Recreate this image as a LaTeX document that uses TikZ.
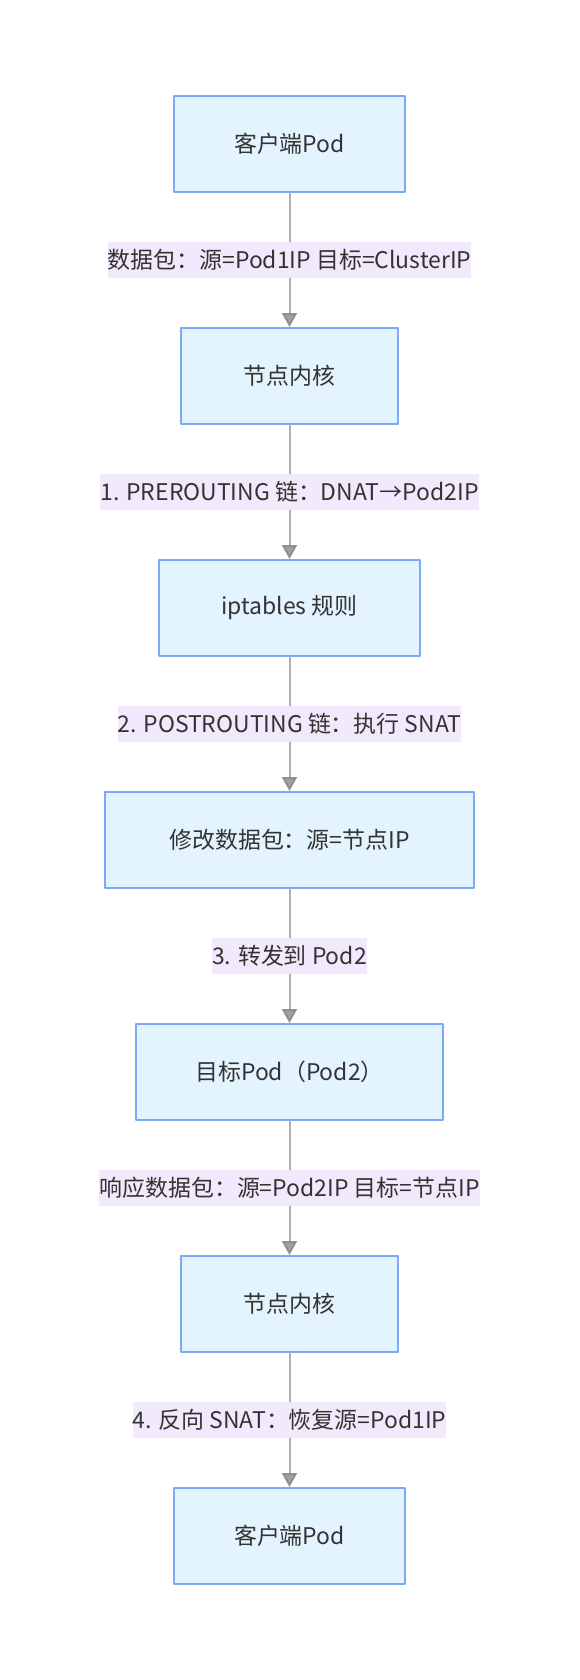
\documentclass[tikz,border=0pt]{standalone}
\usepackage{fontspec}
\setmainfont{Noto Sans CJK SC}
\usepackage{tikz}
\usetikzlibrary{arrows.meta}

\definecolor{boxfill}{HTML}{E3F4FE}
\definecolor{boxline}{HTML}{7BA9F7}
\definecolor{labelbg}{HTML}{F2EAFC}
\definecolor{edgeline}{HTML}{B0B0B0}
\definecolor{tipfill}{HTML}{A0A0A0}
\definecolor{txt}{HTML}{333333}

\tikzset{
    stepbox/.style={draw=boxline, fill=boxfill, line width=1.5pt, minimum height=72pt,
        inner sep=0pt, text=txt, font=\fontsize{17.2pt}{20pt}\selectfont},
    edgelabel/.style={fill=labelbg, inner xsep=0pt, minimum height=27pt, text=txt,
        font=\fontsize{17.2pt}{20pt}\selectfont},
    flow/.style={draw=edgeline, line width=1.5pt,
        -{Triangle[width=11.25pt,length=10.5pt,fill=tipfill,color=tipfill!90!black]}}
}

\begin{document}
\begin{tikzpicture}[line cap=round,line join=round,x=0.75pt,y=-0.75pt]
        \useasboundingbox (0,0) rectangle (579,1680);

        \node[stepbox, minimum width=173.25pt] (client) at (289.5,144) {客户端Pod};
        \node[stepbox, minimum width=162.75pt] (kernel) at (289.5,376) {节点内核};
        \node[stepbox, minimum width=195.75pt] (rules) at (289.5,608) {iptables 规则};
        \node[stepbox, minimum width=276.75pt] (modify) at (289.5,840) {修改数据包：源=节点IP};
        \node[stepbox, minimum width=230.25pt] (target) at (289.5,1072) {目标Pod（Pod2）};
        \node[stepbox, minimum width=162.75pt] (kernelback) at (289.5,1304) {节点内核};
        \node[stepbox, minimum width=173.25pt] (clientback) at (289.5,1536) {客户端Pod};

        \draw[flow] (client) -- node[edgelabel] {数据包：源=Pod1IP 目标=ClusterIP} (kernel);
        \draw[flow] (kernel) -- node[edgelabel] {1. PREROUTING 链：DNAT→Pod2IP} (rules);
        \draw[flow] (rules) -- node[edgelabel] {2. POSTROUTING 链：执行 SNAT} (modify);
        \draw[flow] (modify) -- node[edgelabel] {3. 转发到 Pod2} (target);
        \draw[flow] (target) -- node[edgelabel] {响应数据包：源=Pod2IP 目标=节点IP} (kernelback);
        \draw[flow] (kernelback) -- node[edgelabel] {4. 反向 SNAT：恢复源=Pod1IP} (clientback);
    \end{tikzpicture}
\end{document}
